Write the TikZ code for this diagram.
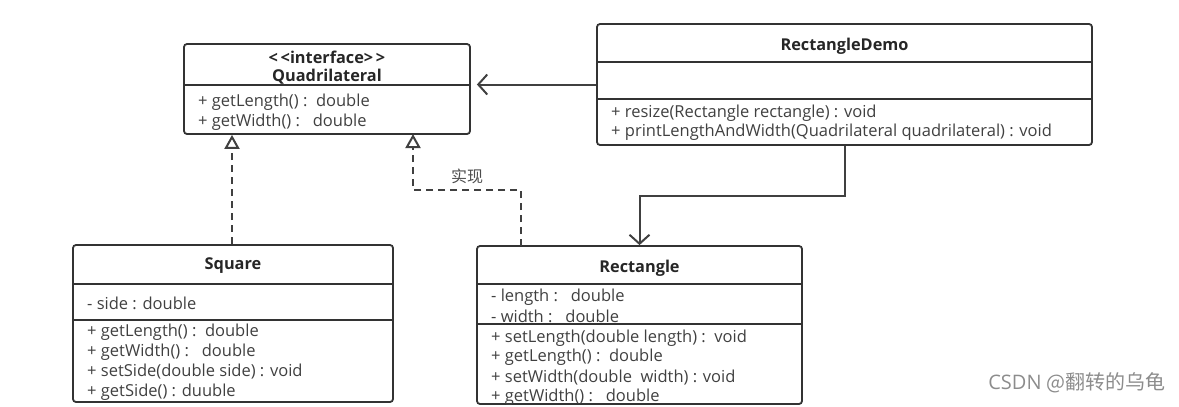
\documentclass[tikz,border=0pt]{standalone}
\usepackage{fontspec}
\setmainfont{Open Sans}
\newfontfamily\cjk{Noto Sans CJK SC}
\usetikzlibrary{arrows.meta,positioning}

\tikzset{
  classbox/.style={draw=black!80, line width=1.8pt, rounded corners=3pt},
  member/.style={anchor=west, inner sep=0pt, font=\fontsize{16.5}{18}\selectfont, text=black!75},
  ctitle/.style={inner sep=0pt, font=\bfseries\fontsize{16.3}{18}\selectfont, text=black!85},
  divider/.style={draw=black!80, line width=1.6pt},
  assoc/.style={draw=black!75, line width=2pt, -{Straight Barb[length=9pt,width=20pt]}},
  realize/.style={draw=black!75, line width=2pt, dash pattern=on 7pt off 5pt, -{Triangle[open,length=14pt,width=15pt]}},
}

\begin{document}
\begin{tikzpicture}[x=1pt,y=-1pt]
      \useasboundingbox (0,0) rectangle (1179,407);
      % class boxes
      \node[classbox, minimum width=286pt, minimum height=90pt] (quad) at (327,89) {};
      \node[classbox, minimum width=495pt, minimum height=121pt] (demo) at (844.5,84.5) {};
      \node[classbox, minimum width=320pt, minimum height=157pt] (square) at (233,323.5) {};
      \node[classbox, minimum width=325pt, minimum height=158pt] (rect) at (639.5,325) {};
      \draw[divider] (quad.west |- 0,85)--(quad.east |- 0,85);
      \draw[divider] (demo.west |- 0,62)--(demo.east |- 0,62);
      \draw[divider] (demo.west |- 0,99)--(demo.east |- 0,99);
      \draw[divider] (square.west |- 0,284)--(square.east |- 0,284);
      \draw[divider] (square.west |- 0,320)--(square.east |- 0,320);
      \draw[divider] (rect.west |- 0,284)--(rect.east |- 0,284);
      \draw[divider] (rect.west |- 0,324)--(rect.east |- 0,324);
      % Quadrilateral
      \node[ctitle] (quadstereo) at (327,57){<\,<interface>\,>};
      \node[ctitle] (quadname) at (327,77){Quadrilateral};
      \node[member] (quadm1) at (198,102){+ getLength() :\ \ double};
      \node[member] (quadm2) at (198,122){+ getWidth() :\ \ \ double};
      % RectangleDemo
      \node[ctitle] (demoname) at (844.5,46){RectangleDemo};
      \node[member] (demom1) at (611,113){+ resize(Rectangle rectangle) : void};
      \node[member] (demom2) at (611,132){+ printLengthAndWidth(Quadrilateral quadrilateral) : void};
      % Square
      \node[ctitle] (squarename) at (233,266){Square};
      \node[member] (squarea1) at (87,303){- side : double};
      \node[member] (squarem1) at (87,332){+ getLength() :\ \ double};
      \node[member] (squarem2) at (87,352){+ getWidth() :\ \ \ double};
      \node[member] (squarem3) at (87,372){+ setSide(double side) : void};
      \node[member] (squarem4) at (87,392){+ getSide() : duuble};
      % Rectangle
      \node[ctitle] (rectname) at (639.5,268){Rectangle};
      \node[member] (recta1) at (491,297){- length :\ \ \ double};
      \node[member] (recta2) at (491,316){- width :\ \ \ double};
      \node[member] (rectm1) at (491,338){+ setLength(double length) :\ \ void};
      \node[member] (rectm2) at (491,357){+ getLength() :\ \ double};
      \node[member] (rectm3) at (491,378){+ setWidth(double\ \ width) : void};
      \node[member] (rectm4) at (491,397){+ getWidth() :\ \ \ double};
      % connectors
      \coordinate (recttop) at (521,246);
      \coordinate (quadhook) at (413,134);
      \draw[assoc,shorten >=6pt] (demo.west)--(demo.west -| quad.east);
      \draw[assoc] (demo.south)--++(0,50)-|(rect.north);
      \draw[realize] (square.north -| 232,0)--(quad.south -| 232,0);
      \draw[realize] (recttop)--(recttop |- 0,190)-|(quadhook);
      \node[member, anchor=center, text=black!70, font=\cjk\fontsize{16}{18}\selectfont] (impl) at (467,176){实现};
      \node[font=\fontsize{20}{22}\selectfont, text=black!45, inner sep=0pt] (mark) at (1077,383){CSDN {\cjk @翻转的乌龟}};
    \end{tikzpicture}
\end{document}
